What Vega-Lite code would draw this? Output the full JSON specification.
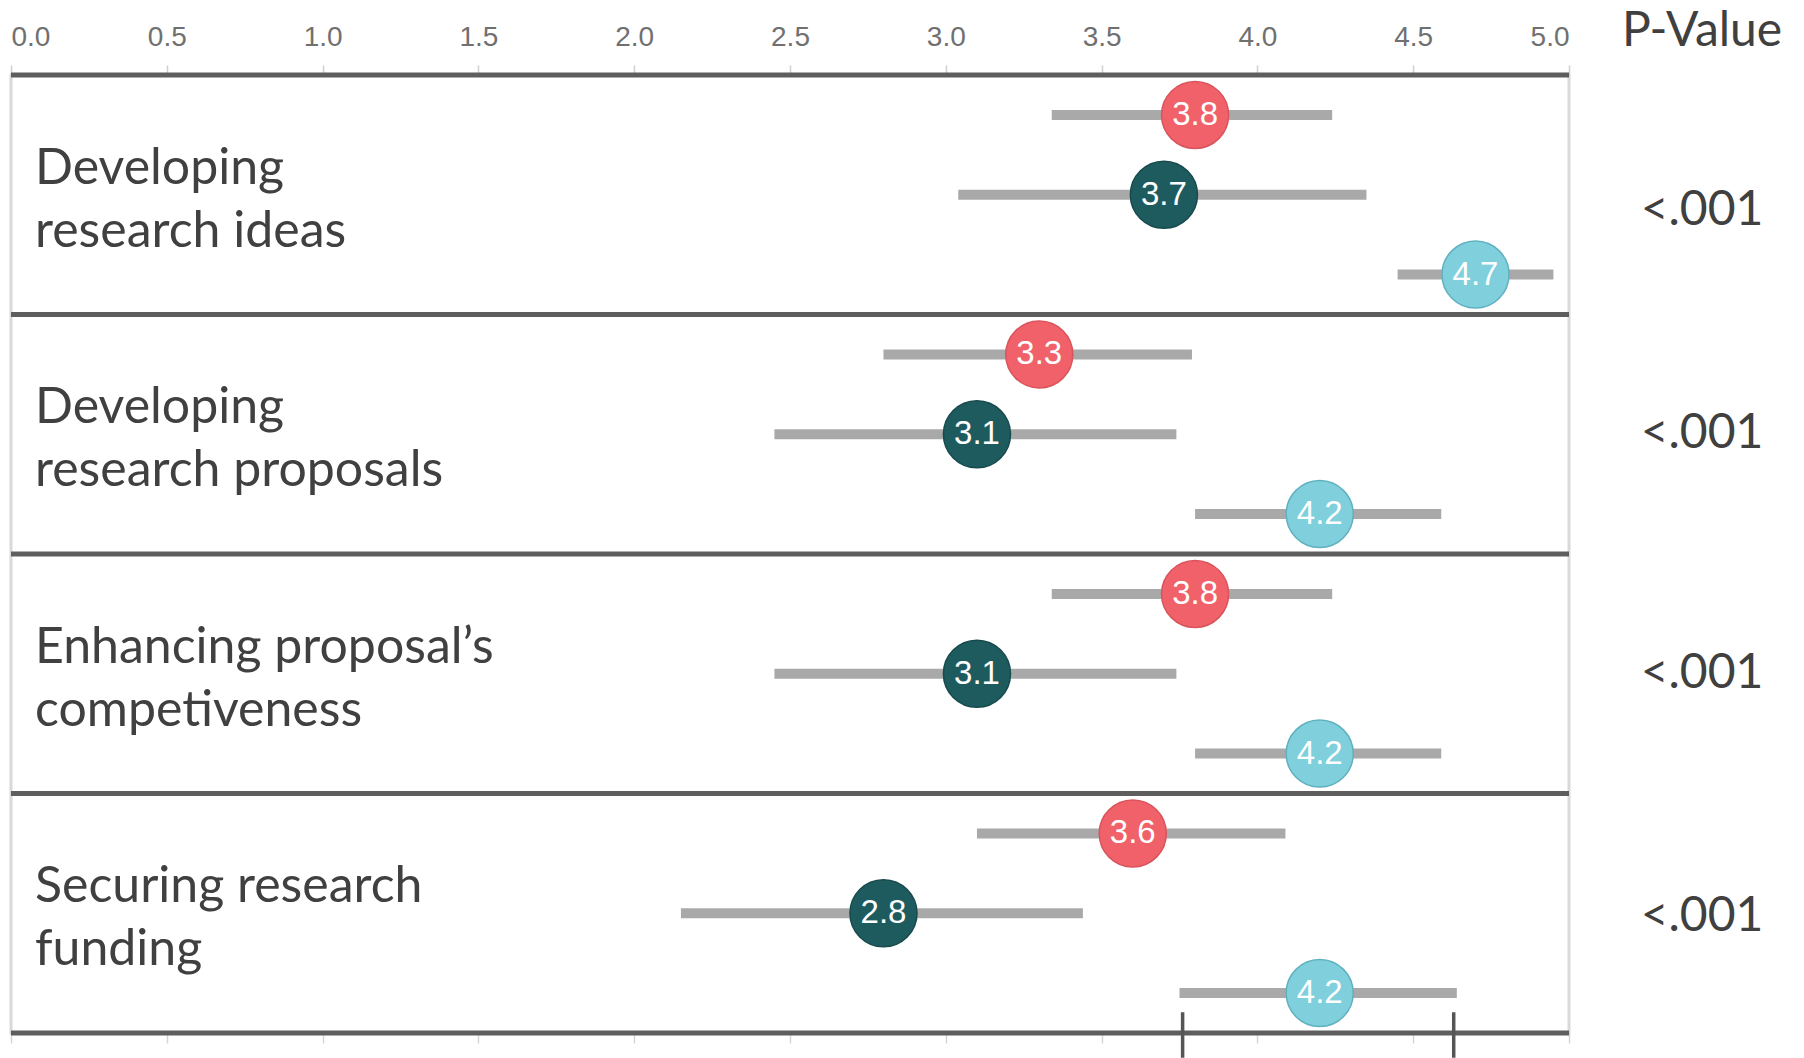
{
  "$schema": "https://vega.github.io/schema/vega-lite/v6.json",
  "width": 1558,
  "height": 958,
  "autosize": {"type": "none"},
  "padding": {"left": 11, "top": 75, "right": 235, "bottom": 25},
  "background": "white",
  "config": {"view": {"stroke": "#d9d9d9", "strokeWidth": 3}},
  "datasets": {
    "pts": [
      {"group": "Developing research ideas", "series": "Series 1", "mean": 3.8, "lo": 3.34, "hi": 4.24, "row": 0.5},
      {"group": "Developing research ideas", "series": "Series 2", "mean": 3.7, "lo": 3.04, "hi": 4.35, "row": 1.5},
      {"group": "Developing research ideas", "series": "Series 3", "mean": 4.7, "lo": 4.45, "hi": 4.95, "row": 2.5},
      {"group": "Developing research proposals", "series": "Series 1", "mean": 3.3, "lo": 2.80, "hi": 3.79, "row": 3.5},
      {"group": "Developing research proposals", "series": "Series 2", "mean": 3.1, "lo": 2.45, "hi": 3.74, "row": 4.5},
      {"group": "Developing research proposals", "series": "Series 3", "mean": 4.2, "lo": 3.80, "hi": 4.59, "row": 5.5},
      {"group": "Enhancing proposal’s competiveness", "series": "Series 1", "mean": 3.8, "lo": 3.34, "hi": 4.24, "row": 6.5},
      {"group": "Enhancing proposal’s competiveness", "series": "Series 2", "mean": 3.1, "lo": 2.45, "hi": 3.74, "row": 7.5},
      {"group": "Enhancing proposal’s competiveness", "series": "Series 3", "mean": 4.2, "lo": 3.80, "hi": 4.59, "row": 8.5},
      {"group": "Securing research funding", "series": "Series 1", "mean": 3.6, "lo": 3.10, "hi": 4.09, "row": 9.5},
      {"group": "Securing research funding", "series": "Series 2", "mean": 2.8, "lo": 2.15, "hi": 3.44, "row": 10.5},
      {"group": "Securing research funding", "series": "Series 3", "mean": 4.2, "lo": 3.75, "hi": 4.64, "row": 11.5}
    ],
    "groups": [
      {"label": "Developing\nresearch ideas", "row": 1.5, "p": "<.001", "prow": 1.7},
      {"label": "Developing\nresearch proposals", "row": 4.5, "p": "<.001", "prow": 4.5},
      {"label": "Enhancing proposal’s\ncompetiveness", "row": 7.5, "p": "<.001", "prow": 7.5},
      {"label": "Securing research\nfunding", "row": 10.5, "p": "<.001", "prow": 10.55}
    ],
    "seps": [{"row": 0}, {"row": 3}, {"row": 6}, {"row": 9}, {"row": 12}],
    "markers": [{"x": 3.76, "y1": 11.74, "y2": 12.31}, {"x": 4.63, "y1": 11.74, "y2": 12.31}],
    "header": [{"text": "P-Value", "x": 5.427, "row": -0.54}]
  },
  "resolve": {"axis": {"x": "independent"}},
  "layer": [
    {
      "data": {"name": "pts"},
      "mark": {"type": "rule", "strokeWidth": 10, "color": "#a9a9a9", "strokeCap": "butt"},
      "encoding": {
        "x": {"field": "lo", "type": "quantitative", "scale": {"domain": [0, 5], "nice": false, "zero": false},
          "axis": {"orient": "top", "title": null, "values": [0, 0.5, 1, 1.5, 2, 2.5, 3, 3.5, 4, 4.5, 5], "format": ".1f",
            "domain": false, "grid": false, "tickSize": 10, "tickColor": "#cfcfcf", "tickWidth": 1.5,
            "labelFont": "Liberation Sans", "labelFontSize": 28, "labelColor": "#707070",
            "labelBaseline": "alphabetic", "labelPadding": 20, "labelFlush": true}},
        "x2": {"field": "hi"},
        "y": {"field": "row", "type": "quantitative", "scale": {"domain": [0, 12], "reverse": true, "nice": false, "zero": false}, "axis": null}
      }
    },
    {
      "data": {"name": "pts"},
      "mark": {"type": "point", "filled": true, "shape": "circle", "size": 4500, "strokeWidth": 1.5, "opacity": 1},
      "encoding": {
        "x": {"field": "mean", "type": "quantitative",
          "axis": {"orient": "bottom", "title": null, "values": [0, 0.5, 1, 1.5, 2, 2.5, 3, 3.5, 4, 4.5, 5], "labels": false,
            "domain": false, "grid": false, "tickSize": 10, "tickColor": "#d5d5d5", "tickWidth": 1.5}},
        "y": {"field": "row", "type": "quantitative"},
        "fill": {"field": "series", "type": "nominal", "legend": null,
          "scale": {"domain": ["Series 1", "Series 2", "Series 3"], "range": ["#f0616a", "#1e5b5f", "#80cfdd"]}},
        "stroke": {"field": "series", "type": "nominal", "legend": null,
          "scale": {"domain": ["Series 1", "Series 2", "Series 3"], "range": ["#d9545c", "#174a4d", "#5fb1bf"]}}
      }
    },
    {
      "data": {"name": "pts"},
      "mark": {"type": "text", "font": "Liberation Sans", "fontSize": 33, "color": "white", "align": "center", "baseline": "middle", "dy": 0},
      "encoding": {
        "x": {"field": "mean", "type": "quantitative", "axis": null},
        "y": {"field": "row", "type": "quantitative"},
        "text": {"field": "mean", "type": "quantitative", "format": ".1f"}
      }
    },
    {
      "data": {"name": "seps"},
      "mark": {"type": "rule", "strokeWidth": 5, "color": "#5e5e5e"},
      "encoding": {
        "y": {"field": "row", "type": "quantitative"}
      }
    },
    {
      "data": {"name": "groups"},
      "mark": {"type": "text", "font": "Lato", "fontSize": 50, "color": "#404040", "align": "left", "baseline": "middle", "lineBreak": "\n", "lineHeight": 63, "x": 24, "dy": -26},
      "encoding": {
        "y": {"field": "row", "type": "quantitative"},
        "text": {"field": "label"}
      }
    },
    {
      "data": {"name": "groups"},
      "mark": {"type": "text", "font": "Lato", "fontSize": 48, "color": "#404040", "align": "center", "baseline": "middle", "x": 1691},
      "encoding": {
        "y": {"field": "prow", "type": "quantitative"},
        "text": {"field": "p"}
      }
    },
    {
      "data": {"name": "header"},
      "mark": {"type": "text", "font": "Lato", "fontSize": 48, "color": "#404040", "align": "center", "baseline": "middle"},
      "encoding": {
        "x": {"field": "x", "type": "quantitative", "axis": null},
        "y": {"field": "row", "type": "quantitative"},
        "text": {"field": "text"}
      }
    },
    {
      "data": {"name": "markers"},
      "mark": {"type": "rule", "strokeWidth": 3.5, "color": "#555555"},
      "encoding": {
        "x": {"field": "x", "type": "quantitative", "axis": null},
        "y": {"field": "y1", "type": "quantitative"},
        "y2": {"field": "y2"}
      }
    }
  ]
}
